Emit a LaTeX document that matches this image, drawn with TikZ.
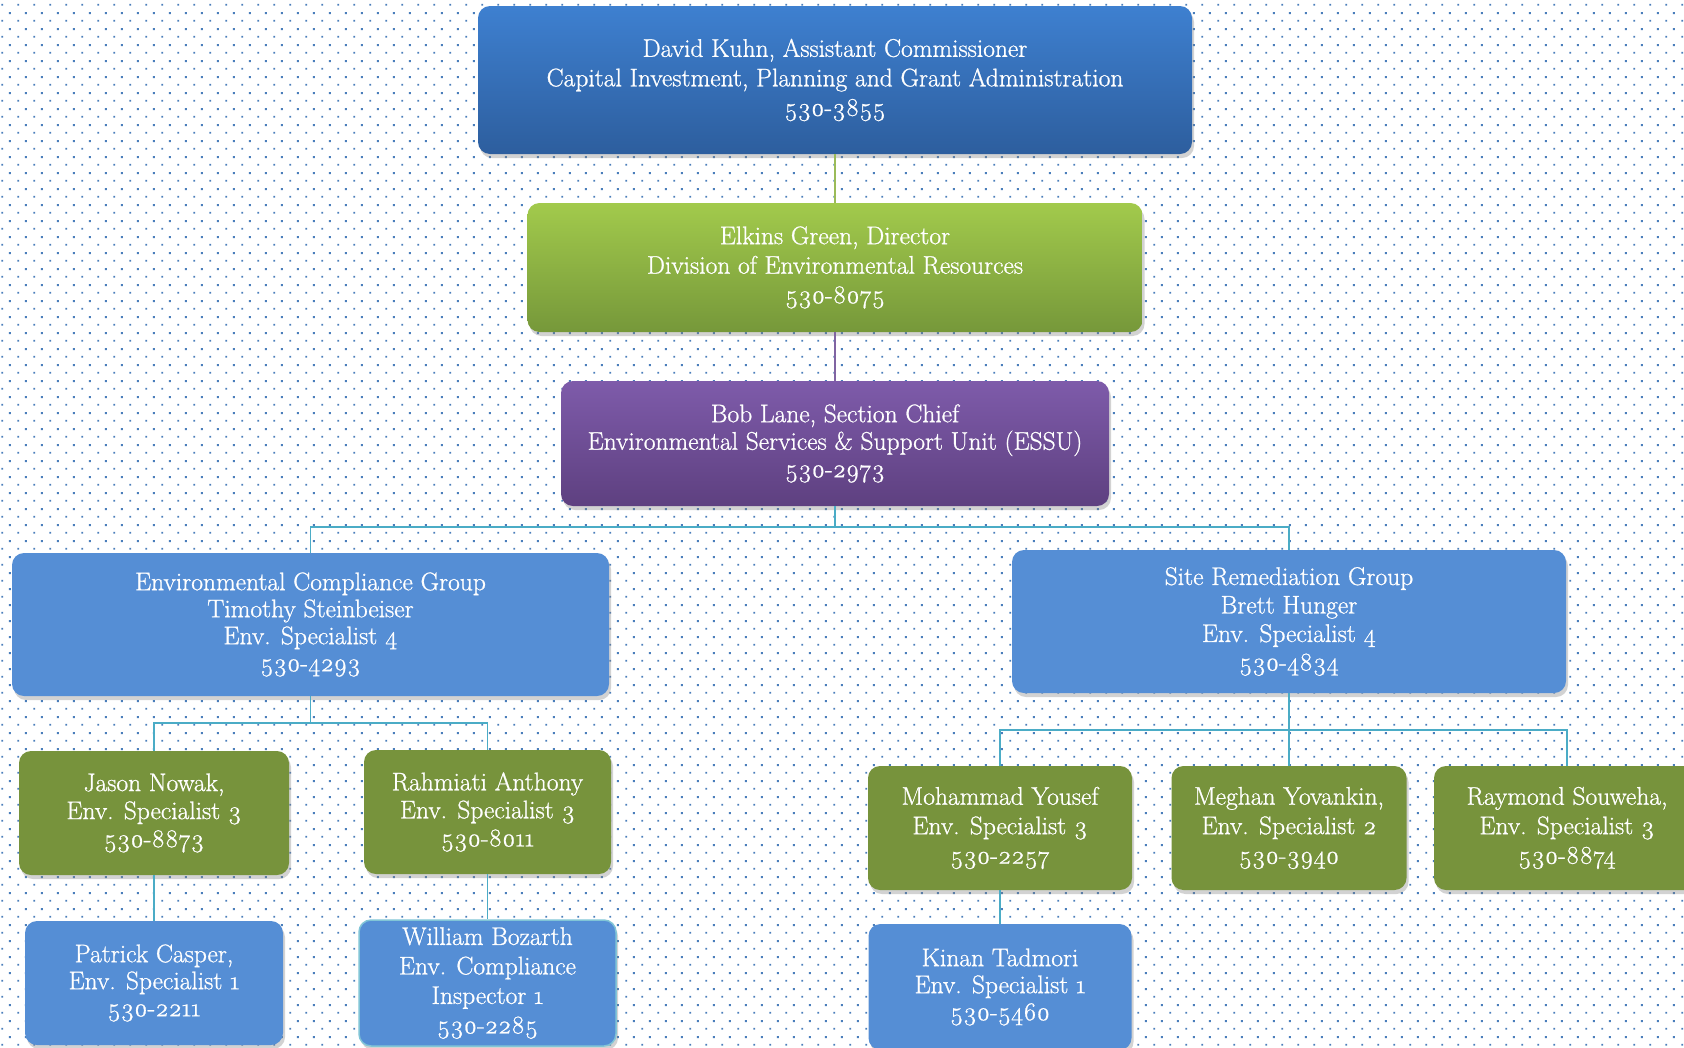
\documentclass[tikz,border=0pt]{standalone}
\usepackage{fontspec}
\setmainfont{Latin Modern Roman}[Numbers=OldStyle,FakeBold=0.9]
\usetikzlibrary{shadows,patterns.meta}
\definecolor{dotblue}{HTML}{4A7EBB}
\definecolor{topT}{HTML}{3E80D0}
\definecolor{topB}{HTML}{2D5E9E}
\definecolor{grnT}{HTML}{A2CA4C}
\definecolor{grnB}{HTML}{76983A}
\definecolor{purT}{HTML}{7E5BAA}
\definecolor{purB}{HTML}{5E4080}
\definecolor{grpblue}{HTML}{558ED5}
\definecolor{olive}{HTML}{77933C}
\definecolor{cyanln}{HTML}{4BACC6}
\definecolor{grnln}{HTML}{9BBB59}
\definecolor{purln}{HTML}{8064A2}
\tikzdeclarepattern{
  name=bgdots,
  type=colored,
  bounding box={(0pt,0pt) and (16pt,16pt)},
  tile size={(16pt,16pt)},
  code={
    \fill[dotblue] (2.5pt,2.5pt) rectangle (4.5pt,4.5pt);
    \fill[dotblue] (10.5pt,10.5pt) rectangle (12.5pt,12.5pt);
  }
}
\tikzset{
  box/.style={rounded corners=12pt, align=center, text=white, inner sep=0pt,
    font=\fontsize{25.5}{28}\selectfont,
    drop shadow={opacity=0.35, shadow xshift=2pt, shadow yshift=-4pt}},
  bluebox/.style={box, fill=grpblue},
  olivebox/.style={box, fill=olive},
  conn/.style={line width=1.6pt, draw=cyanln},
}
\begin{document}
\begin{tikzpicture}[x=1pt,y=-1pt]
\useasboundingbox (0,0) rectangle (1684,1047);
\fill[white] (0,0) rectangle (1684,1047);
\fill[pattern=bgdots] (0,0) rectangle (1684,1047);

\node[box, top color=topT, bottom color=topB, minimum width=714pt, minimum height=148pt,
  font=\fontsize{25.5}{29.5}\selectfont] (top) at (835,80)
  {David Kuhn, Assistant Commissioner\\Capital Investment, Planning and Grant Administration\\530-3855};
\node[box, top color=grnT, bottom color=grnB, minimum width=615pt, minimum height=129pt,
  font=\fontsize{25.5}{29.5}\selectfont] (dir) at (835,267.5)
  {Elkins Green, Director\\Division of Environmental Resources\\530-8075};
\node[box, top color=purT, bottom color=purB, minimum width=548pt, minimum height=125pt,
  font=\fontsize{25.5}{27.5}\selectfont] (chief) at (835,443.5)
  {Bob Lane, Section Chief\\Environmental Services \& Support Unit (ESSU)\\530-2973};

\node[bluebox, minimum width=597pt, minimum height=143pt, font=\fontsize{25.5}{27}\selectfont] (ecg) at (310.5,624.5)
  {Environmental Compliance Group\\Timothy Steinbeiser\\Env. Specialist 4\\530-4293};
\node[bluebox, minimum width=554pt, minimum height=143pt, font=\fontsize{25.5}{28.5}\selectfont] (srg) at (1289,621.5)
  {Site Remediation Group\\Brett Hunger\\Env. Specialist 4\\530-4834};

\node[olivebox, minimum width=270pt, minimum height=124pt] (jason) at (154,813)
  {Jason Nowak,\\Env. Specialist 3\\530-8873};
\node[olivebox, minimum width=247pt, minimum height=124pt] (rahm) at (487.5,812)
  {Rahmiati Anthony\\Env. Specialist 3\\530-8011};
\node[bluebox, minimum width=258pt, minimum height=124pt, font=\fontsize{25.5}{27}\selectfont] (patrick) at (154,983)
  {Patrick Casper,\\Env. Specialist 1\\530-2211};
\node[bluebox, draw=cyanln!70!white, line width=1.5pt, minimum width=257pt, minimum height=126pt,
  font=\fontsize{25.5}{29.5}\selectfont] (william) at (487.5,983)
  {William Bozarth\\Env. Compliance\\Inspector 1\\530-2285};

\node[olivebox, minimum width=264pt, minimum height=124pt, font=\fontsize{25.5}{29.5}\selectfont] (moh) at (1000,828)
  {Mohammad Yousef\\Env. Specialist 3\\530-2257};
\node[olivebox, minimum width=235pt, minimum height=124pt, font=\fontsize{25.5}{29.5}\selectfont] (meg) at (1289,828)
  {Meghan Yovankin,\\Env. Specialist 2\\530-3940};
\node[olivebox, minimum width=266pt, minimum height=124pt, font=\fontsize{25.5}{29.5}\selectfont] (ray) at (1567,828)
  {Raymond Souweha,\\Env. Specialist 3\\530-8874};
\node[bluebox, minimum width=263pt, minimum height=126pt, font=\fontsize{25.5}{27}\selectfont] (kinan) at (1000,987)
  {Kinan Tadmori\\Env. Specialist 1\\530-5460};

\draw[line width=1.6pt, draw=grnln] (top.south) -- (dir.north);
\draw[line width=1.6pt, draw=purln] (dir.south) -- (chief.north);
\coordinate (b1) at (835,527);
\draw[conn] (chief.south) -- (b1) -| (ecg.north);
\draw[conn] (b1) -| (srg.north);
\coordinate (b2) at (310.5,723);
\draw[conn] (ecg.south) -- (b2) -| (jason.north);
\draw[conn] (b2) -| (rahm.north);
\coordinate (b3) at (1289,730);
\draw[conn] (srg.south) -- (b3) -| (moh.north);
\draw[conn] (b3) -| (ray.north);
\draw[conn] (b3) -- (meg.north);
\draw[conn] (jason.south) -- (patrick.north);
\draw[conn] (rahm.south) -- (william.north);
\draw[conn] (moh.south) -- (kinan.north);
\end{tikzpicture}
\end{document}
